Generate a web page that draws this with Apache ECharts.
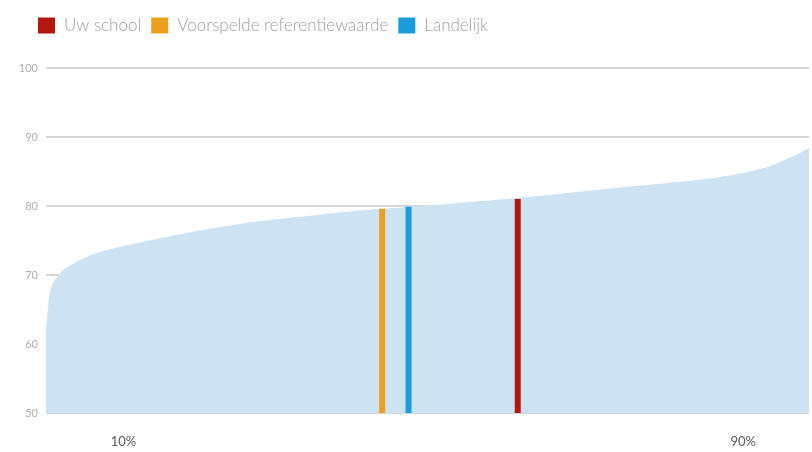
<!DOCTYPE html>
<html>
<head>
<meta charset="utf-8">
<script src="https://cdn.jsdelivr.net/npm/echarts@6/dist/echarts.min.js"></script>
<style>
  html, body { margin: 0; padding: 0; background: #fff; }
  #chart { width: 812px; height: 452px; }
</style>
</head>
<body>
<div id="chart"></div>
<script>
// verdeling van alle scholen (percentiel -> score)
const percentiles = [0, 0.5, 1, 2, 3, 5, 7.5, 10, 15, 20, 25, 30, 35, 40, 45, 50, 55, 60, 65, 70, 75, 80, 85, 90, 93, 95, 97, 98.5];
const scores = [62, 67.5, 69, 70.5, 71.3, 72.5, 73.5, 74.2, 75.4, 76.5, 77.4, 78.1, 78.7, 79.3, 79.7, 80.1, 80.6, 81.1, 81.6, 82.2, 82.8, 83.3, 83.9, 84.8, 85.6, 86.5, 87.5, 88.4];

// markeringen: [percentiel, score]
const uwSchool = [60.9, 81.0];
const referentie = [43.4, 79.6];
const landelijk = [46.8, 79.9];

const xLabels = [10, 90];

const chart = echarts.init(document.getElementById('chart'));

const barSeries = (name, point, color) => ({
  name: name,
  type: 'bar',
  barWidth: 6,
  barGap: '-100%',
  itemStyle: { color: color },
  data: [point],
  z: 3
});

chart.setOption({
  animation: false,
  textStyle: { fontFamily: 'Lato' },
  legend: {
    data: ['Uw school', 'Voorspelde referentiewaarde', 'Landelijk'],
    left: 33,
    top: 12,
    icon: 'rect',
    itemWidth: 17,
    itemHeight: 16,
    itemGap: 10,
    textStyle: { color: '#a0a0a0', fontSize: 17, fontWeight: 300, padding: [0, 0, 0, 4] }
  },
  grid: { left: 46, right: 0, top: 68, bottom: 39 },
  xAxis: {
    type: 'value',
    min: 0,
    max: 98.5,
    interval: 10,
    axisLine: { show: false },
    axisTick: { show: false },
    splitLine: { show: false },
    axisLabel: {
      margin: 22,
      color: '#5a5a5a',
      fontSize: 13,
      formatter: v => xLabels.includes(v) ? v + '%' : ''
    }
  },
  yAxis: {
    type: 'value',
    min: 50,
    max: 100,
    interval: 10,
    axisLine: { show: false },
    axisTick: { show: false },
    axisLabel: { color: '#b0b0b0', fontSize: 11, margin: 8 },
    splitLine: { lineStyle: { color: '#c8c8c8', width: 1.5 } }
  },
  series: [
    {
      name: 'Verdeling',
      type: 'line',
      smooth: 0.3,
      showSymbol: false,
      lineStyle: { width: 0 },
      areaStyle: { color: '#cde3f4', opacity: 1 },
      data: percentiles.map((p, i) => [p, scores[i]]),
      z: 2
    },
    barSeries('Uw school', uwSchool, '#b5170f'),
    barSeries('Voorspelde referentiewaarde', referentie, '#eb9f1c'),
    barSeries('Landelijk', landelijk, '#1b9ddd')
  ]
});
</script>
</body>
</html>
